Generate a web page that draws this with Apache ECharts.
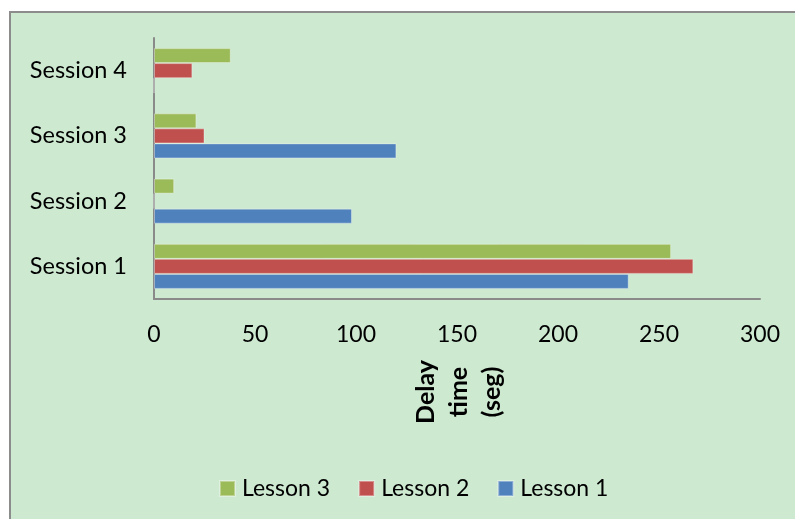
<!DOCTYPE html>
<html><head><meta charset="utf-8">
<script src="https://cdn.jsdelivr.net/npm/echarts@6/dist/echarts.min.js"></script>
<style>html,body{margin:0;padding:0;background:#fff}#c{width:795px;height:519px}</style>
</head><body><div id="c"></div>
<script>
const categories = ['Session 1', 'Session 2', 'Session 3', 'Session 4'];
const lesson1 = [235, 98, 120, 0];
const lesson2 = [267, 0, 25, 19];
const lesson3 = [256, 10, 21, 38];
const xTicks = [0, 50, 100, 150, 200, 250, 300];
const seriesNames = ['Lesson 3', 'Lesson 2', 'Lesson 1'];
const legendOrder = ['Lesson 3', 'Lesson 2', 'Lesson 1'];
const axisTitle = 'Delay\ntime\n(seg)';

const font = 'Lato, "Noto Sans", sans-serif';
const chart = echarts.init(document.getElementById('c'));
const colors = ['#9BBB59', '#C0504D', '#4F81BD'];
const vals = [lesson3, lesson2, lesson1];
chart.setOption({
  animation: false,
  graphic: [
    {type: 'rect', z: -10, shape: {x: 10, y: 12, width: 800, height: 520},
     style: {fill: '#CDE9D0', stroke: '#8c8c8c', lineWidth: 2}},
    {type: 'text', x: 459, y: 392, rotation: Math.PI / 2,
     style: {text: axisTitle, font: 'bold 25px ' + font, fill: '#000',
             align: 'center', verticalAlign: 'middle', lineHeight: 33}}
  ],
  grid: {left: 154, right: 35, top: 38, bottom: 220, containLabel: false},
  xAxis: {
    type: 'value', min: xTicks[0], max: xTicks[xTicks.length - 1], interval: 50,
    axisLine: {show: true, lineStyle: {color: '#8a8a8a', width: 2}},
    axisTick: {show: false}, splitLine: {show: false},
    axisLabel: {color: '#000', fontSize: 23, fontFamily: font, margin: 24}
  },
  yAxis: {
    type: 'category', data: categories,
    axisLine: {show: true, lineStyle: {color: '#8a8a8a', width: 2}},
    axisTick: {show: false},
    axisLabel: {color: '#000', fontSize: 23.5, fontFamily: font, margin: 27}
  },
  legend: {
    data: legendOrder, left: 214, top: 472, itemWidth: 15, itemHeight: 15, itemGap: 28,
    icon: 'rect', textStyle: {color: '#000', fontSize: 23, fontFamily: font, padding: [0, 0, 0, 2]}
  },
  series: seriesNames.map((n, i) => ({
    name: n, type: 'bar', data: vals[i], barGap: '0%', barCategoryGap: '31%',
    itemStyle: {color: colors[i], borderColor: 'rgba(255,255,255,0.35)', borderWidth: 1}
  }))
});
</script></body></html>
